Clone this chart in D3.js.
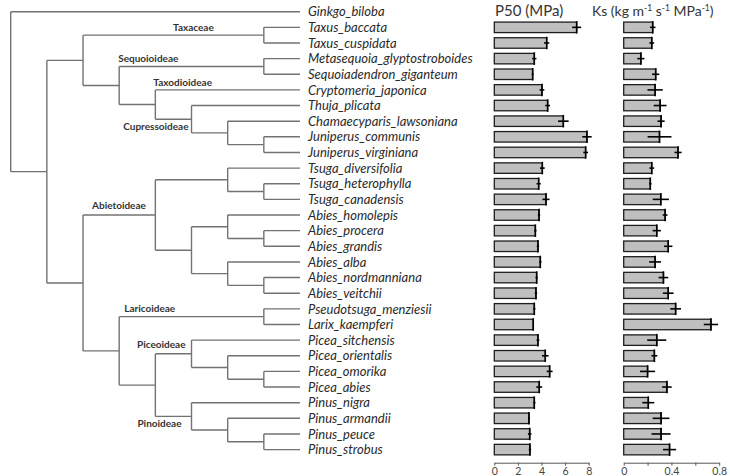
<!DOCTYPE html>
<html><head><meta charset="utf-8">
<script src="https://cdn.jsdelivr.net/npm/d3@7"></script>
<style>body{margin:0;background:#fff} svg{display:block}</style>
</head><body>
<svg id="c" width="730" height="476"></svg>
<script>
// ---------------- data ----------------
const newick = "(Ginkgo_biloba,(((Taxus_baccata,Taxus_cuspidata)Taxaceae,((Metasequoia_glyptostroboides,Sequoiadendron_giganteum)Sequoioideae,(Cryptomeria_japonica,(Thuja_plicata,(Chamaecyparis_lawsoniana,(Juniperus_communis,Juniperus_virginiana)))Cupressoideae))),(((Tsuga_diversifolia,(Tsuga_heterophylla,Tsuga_canadensis)),((Abies_homolepis,(Abies_procera,Abies_grandis)),(Abies_alba,(Abies_nordmanniana,Abies_veitchii))))Abietoideae,((Pseudotsuga_menziesii,Larix_kaempferi)Laricoideae,((Picea_sitchensis,(Picea_orientalis,(Picea_omorika,Picea_abies)))Piceoideae,(Pinus_nigra,(Pinus_armandii,(Pinus_peuce,Pinus_strobus)))Pinoideae)))))";

const species = ["Ginkgo_biloba","Taxus_baccata","Taxus_cuspidata","Metasequoia_glyptostroboides",
  "Sequoiadendron_giganteum","Cryptomeria_japonica","Thuja_plicata","Chamaecyparis_lawsoniana",
  "Juniperus_communis","Juniperus_virginiana","Tsuga_diversifolia","Tsuga_heterophylla",
  "Tsuga_canadensis","Abies_homolepis","Abies_procera","Abies_grandis","Abies_alba",
  "Abies_nordmanniana","Abies_veitchii","Pseudotsuga_menziesii","Larix_kaempferi",
  "Picea_sitchensis","Picea_orientalis","Picea_omorika","Picea_abies","Pinus_nigra",
  "Pinus_armandii","Pinus_peuce","Pinus_strobus"];

const p50 = [null,6.98,4.44,3.39,3.25,4.04,4.52,5.85,7.85,7.74,4.07,3.76,4.38,3.79,3.48,3.70,3.90,
  3.59,3.53,3.39,3.30,3.70,4.32,4.69,3.81,3.39,2.94,3.00,3.02];
const p50Err = [null,0.38,0.22,0.18,0.08,0.2,0.2,0.45,0.4,0.2,0.2,0.18,0.3,0.1,0.1,0.1,0.1,
  0.1,0.1,0.1,0,0.12,0.28,0.25,0.25,0.1,0.08,0.15,0.1];
const ks = [null,0.243,0.235,0.144,0.268,0.263,0.305,0.313,0.300,0.455,0.235,0.223,0.311,0.347,
  0.277,0.373,0.263,0.333,0.373,0.435,0.731,0.277,0.257,0.200,0.362,0.206,0.313,0.313,0.384];
const ksErr = [null,0.023,0.02,0.03,0.03,0.064,0.054,0.03,0.1,0.03,0.02,0.01,0.068,0.02,
  0.035,0.035,0.05,0.04,0.045,0.045,0.06,0.08,0.025,0.063,0.04,0.05,0.07,0.08,0.055];

const p50Ticks = [0,2,4,6,8];
const p50TickLabels = ["0","2","4","6","8"];
const ksTicks = [0,0.2,0.4,0.6,0.8];
const ksTickLabels = ["0","","0.4","","0.8"];

const cladeLabels = ["Taxaceae","Sequoioideae","Taxodioideae","Cupressoideae","Abietoideae",
  "Laricoideae","Piceoideae","Pinoideae"];
const cladeNodes = ["Taxaceae","Sequoioideae","Cryptomeria_japonica","Cupressoideae","Abietoideae",
  "Laricoideae","Piceoideae","Pinoideae"];

// ---------------- parse newick ----------------
function parseNewick(s) {
  let i = 0;
  function node() {
    const n = {};
    if (s[i] === "(") {
      i++; n.children = [];
      n.children.push(node());
      while (s[i] === ",") { i++; n.children.push(node()); }
      i++;
    }
    let name = "";
    while (i < s.length && !",();".includes(s[i])) name += s[i++];
    n.name = name;
    return n;
  }
  return node();
}

// ---------------- layout ----------------
const svg = d3.select("#c");
const root = d3.hierarchy(parseNewick(newick));
const yRow = d3.scalePoint().domain(species).range([11.7, 449.6]);
const xTree = d3.scaleLinear().domain([0, root.height]).range([10.7, 300]);
const xP50 = d3.scaleLinear().domain([0, 8]).range([494.3, 588.7]);
const xKs = d3.scaleLinear().domain([0, 0.8]).range([623.7, 719.2]);

root.eachAfter(n => {
  n.px = xTree(root.height - n.height);
  if (n.children) n.py = (n.children[0].py + n.children[n.children.length - 1].py) / 2;
  else n.py = yRow(n.data.name);
});

const treeG = svg.append("g").attr("stroke", "#727272").attr("stroke-width", 1.4).attr("fill", "none");
root.descendants().forEach(n => {
  if (n.children) {
    treeG.append("line").attr("x1", n.px).attr("x2", n.px)
      .attr("y1", n.children[0].py).attr("y2", n.children[n.children.length - 1].py);
  }
  if (n.parent) {
    treeG.append("line").attr("x1", n.parent.px).attr("x2", n.px).attr("y1", n.py).attr("y2", n.py);
  }
});

// species labels
svg.append("g").selectAll("text").data(species).join("text")
  .attr("x", 308).attr("y", d => yRow(d)).attr("dy", "0.36em")
  .attr("font-family", "Lato, 'Open Sans', sans-serif").attr("font-style", "italic")
  .attr("font-size", 13).attr("fill", "#2a2a2a").text(d => d);

// clade labels
const placement = {
  Taxaceae:     {ref: "parent", dx: 90, dy: -8, anchor: "start"},
  Sequoioideae: {ref: "parent", dx: -1, dy: -8, anchor: "start"},
  Taxodioideae: {ref: "parent", dx: -2, dy: -7.5, anchor: "start"},
  Cupressoideae:{ref: "node", dx: -3, dy: 7, anchor: "end"},
  Abietoideae:  {ref: "parent", dx: 9, dy: -10, anchor: "start"},
  Laricoideae:  {ref: "parent", dx: 5, dy: -8, anchor: "start"},
  Piceoideae:   {ref: "node", dx: -6, dy: -9, anchor: "end"},
  Pinoideae:    {ref: "node", dx: -10, dy: 7.3, anchor: "end"}
};
const byName = new Map(root.descendants().map(n => [n.data.name, n]));
cladeLabels.forEach((lab, i) => {
  const n = byName.get(cladeNodes[i]);
  const p = placement[lab];
  const bx = p.ref === "parent" ? n.parent.px : n.px;
  svg.append("text").attr("x", bx + p.dx).attr("y", n.py + p.dy).attr("dy", "0.36em")
    .attr("text-anchor", p.anchor)
    .attr("font-family", "Lato, 'Open Sans', sans-serif").attr("font-weight", "bold")
    .attr("font-size", 10).attr("fill", "#333").text(lab);
});

// ---------------- bar panels ----------------
const barH = 10.5;
function panel(vals, errs, x, ticks, tickLabels) {
  const rows = species.map((s, i) => ({s, v: vals[i], e: errs[i]})).filter(d => d.v != null);
  const g = svg.append("g");
  g.selectAll("rect").data(rows).join("rect")
    .attr("x", x(0)).attr("y", d => yRow(d.s) - barH / 2)
    .attr("width", d => x(d.v) - x(0)).attr("height", barH)
    .attr("fill", "#bfbfbf").attr("stroke", "#1e1e1e").attr("stroke-width", 1.3);
  const eg = g.append("g").attr("stroke", "#000").attr("stroke-width", 1.6);
  rows.forEach(d => {
    const y = yRow(d.s);
    if (d.e > 0) eg.append("line").attr("x1", x(d.v - d.e)).attr("x2", x(d.v + d.e)).attr("y1", y).attr("y2", y);
    eg.append("line").attr("x1", x(d.v)).attr("x2", x(d.v)).attr("y1", y - barH / 2 - 1).attr("y2", y + barH / 2 + 1);
  });
  const ax = d3.axisBottom(x).tickValues(ticks).tickFormat((d, i) => tickLabels[i])
    .tickSize(3).tickSizeOuter(0).tickPadding(2);
  const ag = svg.append("g").attr("transform", "translate(0,462.7)").call(ax);
  ag.select(".domain").attr("stroke", "#555").attr("stroke-width", 1);
  ag.selectAll(".tick line").attr("stroke", "#555");
  ag.selectAll(".tick text").attr("fill", "#444").attr("font-size", 10.5)
    .attr("font-family", "Lato, 'Open Sans', sans-serif");
}
panel(p50, p50Err, xP50, p50Ticks, p50TickLabels);
panel(ks, ksErr, xKs, ksTicks, ksTickLabels);

// headers
svg.append("text").attr("x", 495).attr("y", 11).attr("dy", "0.36em")
  .attr("font-family", "Lato, 'Open Sans', sans-serif").attr("font-size", 15).attr("fill", "#333")
  .text("P50 (MPa)");
const kh = svg.append("text").attr("x", 592).attr("y", 11).attr("dy", "0.36em")
  .attr("font-family", "Lato, 'Open Sans', sans-serif").attr("font-size", 14).attr("fill", "#333");
const parts = [["Ks (kg m", false], ["-1", true], [" s", false], ["-1", true], [" MPa", false], ["-1", true], [")", false]];
let raised = false;
parts.forEach(([t, sup]) => {
  const ts = kh.append("tspan").text(t);
  if (sup) { ts.attr("font-size", 8.5).attr("dy", raised ? 0 : -5); raised = true; }
  else { ts.attr("dy", raised ? 5 : null); raised = false; }
});
</script>
</body></html>
